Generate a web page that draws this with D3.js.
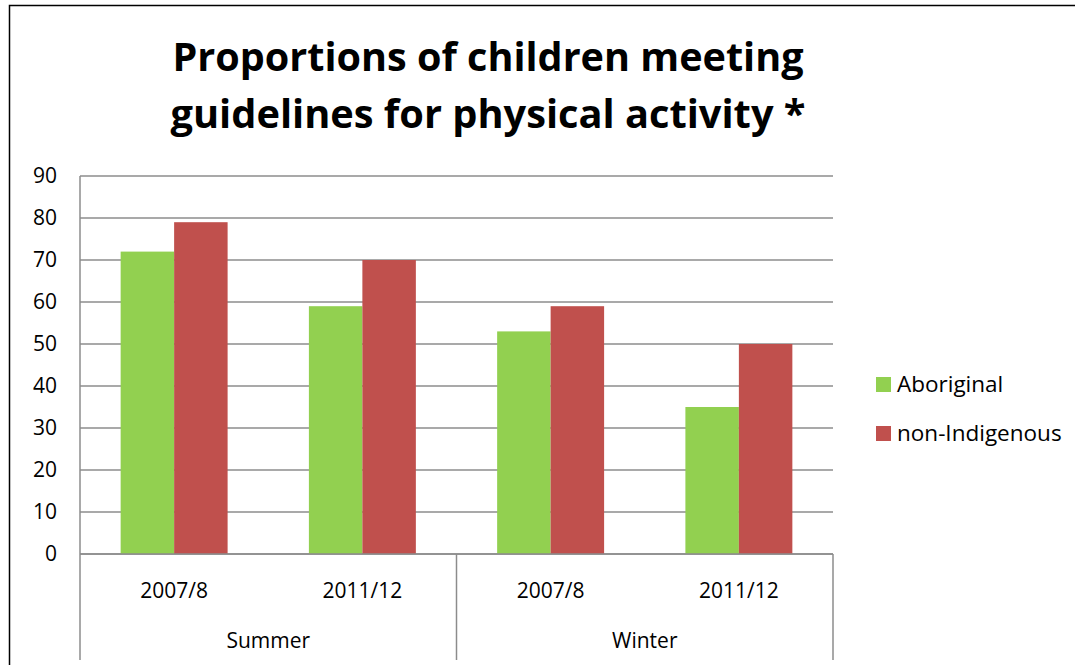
<!DOCTYPE html>
<html><head><meta charset="utf-8">
<script src="https://cdn.jsdelivr.net/npm/d3@7"></script>
<style>body{margin:0;background:#fff;} svg{display:block;font-family:"Open Sans","Liberation Sans",sans-serif;}</style>
</head><body>
<script>
const groups = ["Summer", "Winter"];
const periods = ["2007/8", "2011/12"];
const seriesNames = ["Aboriginal", "non-Indigenous"];
const aboriginal = [72, 59, 53, 35];
const nonIndigenous = [79, 70, 59, 50];
const yTicks = [0, 10, 20, 30, 40, 50, 60, 70, 80, 90];
const colors = ["#92D050", "#C0504D"];
const titleLines = ["Proportions of children meeting", "guidelines for physical activity *"];

(function () {
const W = 1075, H = 665;
const svg = d3.select("body").append("svg").attr("width", W).attr("height", H);
svg.append("rect").attr("width", W).attr("height", H).attr("fill", "#fff");

// outer border
svg.append("path").attr("d", `M9.5,${H} V5.5 H${W}`).attr("fill", "none").attr("stroke", "#000").attr("stroke-width", 1.5);

const pLeft = 80, pRight = 833, pTop = 176, pBottom = 554;
const cats = [];
groups.forEach(g => periods.forEach(p => cats.push(g + "|" + p)));
const x = d3.scaleBand().domain(cats).range([pLeft, pRight]).paddingInner(0).paddingOuter(0);
const y = d3.scaleLinear().domain([0, 90]).range([pBottom, pTop]);

// title
const titleLen = [631, 635];
titleLines.forEach((t, i) => {
  svg.append("text").attr("x", 488).attr("y", 71 + i * 57).attr("text-anchor", "middle")
    .attr("font-size", 40).attr("font-weight", "bold").attr("fill", "#000")
    .attr("textLength", titleLen[i]).attr("lengthAdjust", "spacingAndGlyphs").text(t);
});

// gridlines
svg.append("g").selectAll("line").data(yTicks).join("line")
  .attr("x1", pLeft).attr("x2", pRight).attr("y1", d => y(d)).attr("y2", d => y(d))
  .attr("stroke", "#8c8c8c").attr("stroke-width", 1.5);
const yAxis = d3.axisLeft(y).tickValues(yTicks).tickSize(0).tickPadding(0).tickFormat(d3.format("d"));
const ya = svg.append("g").attr("transform", `translate(${pLeft - 23},0)`).call(yAxis);
ya.attr("font-size", null).attr("font-family", null);
ya.select(".domain").remove();
ya.selectAll("text").attr("font-size", 21).attr("fill", "#000");

// bars
const series = [aboriginal, nonIndigenous];
const sub = d3.scaleBand().domain(seriesNames).range([0, x.bandwidth()]).paddingOuter(0.76).paddingInner(0);
series.forEach((vals, si) => {
  svg.append("g").selectAll("rect").data(vals).join("rect")
    .attr("x", (d, i) => x(cats[i]) + sub(seriesNames[si]))
    .attr("width", sub.bandwidth())
    .attr("y", d => y(d)).attr("height", d => y(0) - y(d))
    .attr("fill", colors[si]);
});

// axis lines
svg.append("line").attr("x1", pLeft).attr("x2", pLeft).attr("y1", pTop).attr("y2", 660).attr("stroke", "#8c8c8c").attr("stroke-width", 1.5);
svg.append("line").attr("x1", pLeft).attr("x2", pRight).attr("y1", pBottom).attr("y2", pBottom).attr("stroke", "#8c8c8c").attr("stroke-width", 1.5);
[x(cats[2]), pRight].forEach(gx => svg.append("line").attr("x1", gx).attr("x2", gx).attr("y1", pBottom).attr("y2", 660).attr("stroke", "#8c8c8c").attr("stroke-width", 1.5));

// category labels
svg.append("g").selectAll("text").data(cats).join("text")
  .attr("x", d => x(d) + x.bandwidth() / 2).attr("y", 598).attr("text-anchor", "middle")
  .attr("font-size", 21).attr("fill", "#000").text(d => d.split("|")[1]);
svg.append("g").selectAll("text").data(groups).join("text")
  .attr("x", (g, i) => (x(cats[i * 2]) + x(cats[i * 2 + 1]) + x.bandwidth()) / 2).attr("y", 648).attr("text-anchor", "middle")
  .attr("font-size", 21).attr("fill", "#000").text(d => d);

// legend
const lg = svg.append("g").attr("transform", "translate(876,377)");
seriesNames.forEach((n, i) => {
  lg.append("rect").attr("x", 0).attr("y", i * 49).attr("width", 15).attr("height", 15).attr("fill", colors[i]);
  lg.append("text").attr("x", 21).attr("y", i * 49 + 15).attr("font-size", 22.5).attr("fill", "#000").text(n);
});
})();
</script>
</body></html>
